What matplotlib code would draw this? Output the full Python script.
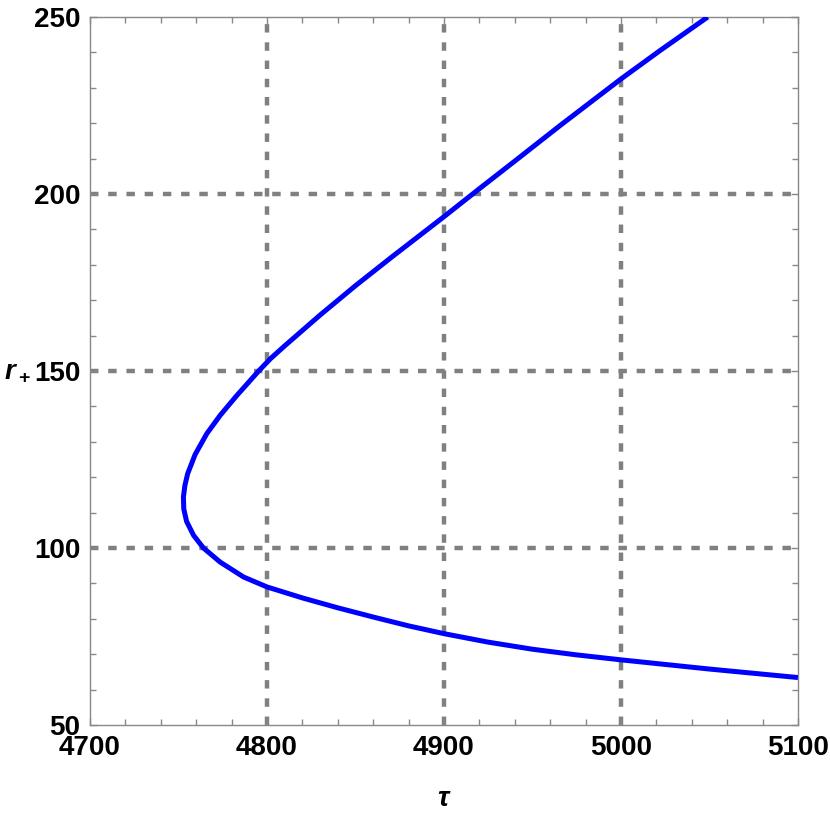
import numpy as np
import matplotlib.pyplot as plt
from matplotlib.ticker import MultipleLocator

# curve, ordered along r (lower branch -> tip -> upper branch)
tau = [5100, 5050, 5000, 4975, 4950, 4925, 4900, 4880, 4860, 4840, 4820,
       4800, 4786.8, 4773.6, 4764.1, 4758.5, 4754.6, 4753.0, 4752.8, 4753.6,
       4755.2, 4759.4, 4766.0, 4773.6, 4783.0, 4795.3, 4802, 4810, 4830,
       4850, 4870, 4900, 4920, 4940, 4966, 5000, 5022, 5049]
r_plus = [63.4, 65.8, 68.4, 69.8, 71.4, 73.4, 75.8, 78.0, 80.5, 83.1, 85.9,
          89.0, 91.8, 96.0, 100.0, 103.6, 107.5, 111.0, 114.4, 117.6,
          121.0, 126.4, 132.3, 137.5, 143.1, 150.0, 153.5, 157.1, 165.8,
          174.1, 182.0, 193.6, 201.5, 209.3, 219.5, 232.5, 240.5, 250.0]

grid_x = [4800, 4900, 5000]
grid_y = [100, 150, 200]

plt.rcParams["font.family"] = "Liberation Sans"
plt.rcParams["font.weight"] = "bold"
plt.rcParams["mathtext.fontset"] = "custom"
plt.rcParams["mathtext.it"] = "Liberation Sans:italic:bold"
plt.rcParams["mathtext.rm"] = "Liberation Sans:bold"
plt.rcParams["mathtext.bf"] = "Liberation Sans:bold"

fig = plt.figure(figsize=(8.3, 8.19), dpi=100)
ax = fig.add_axes([0.1084, 0.1148, 0.853, 0.8644])

# dashed grid only at the inner major ticks
for gx in grid_x:
    ax.axvline(gx, color="#808080", lw=3.2, ls=(0, (1.9, 2.2)), zorder=1)
for gy in grid_y:
    ax.axhline(gy, color="#808080", lw=3.2, ls=(0, (1.9, 2.2)), zorder=1)

ax.plot(tau, r_plus, color="#0000ff", lw=3.6, zorder=3,
        solid_joinstyle="round", solid_capstyle="butt")

ax.set_xlim(4700, 5100)
ax.set_ylim(50, 250)
ax.xaxis.set_major_locator(MultipleLocator(100))
ax.xaxis.set_minor_locator(MultipleLocator(20))
ax.yaxis.set_major_locator(MultipleLocator(50))
ax.yaxis.set_minor_locator(MultipleLocator(10))

ax.tick_params(which="both", direction="in", top=True, right=True,
               color="#888888", width=1)
ax.tick_params(which="major", length=5, labelsize=20, pad=7)
ax.tick_params(which="minor", length=4)
for s in ax.spines.values():
    s.set_color("#888888")
    s.set_linewidth(1)

ax.set_xlabel(r"$\tau$", fontsize=20, labelpad=18)
ax.set_ylabel(r"$r_+$", fontsize=20, rotation=0, labelpad=12, va="center")

fig.savefig("out.png", dpi=100)
